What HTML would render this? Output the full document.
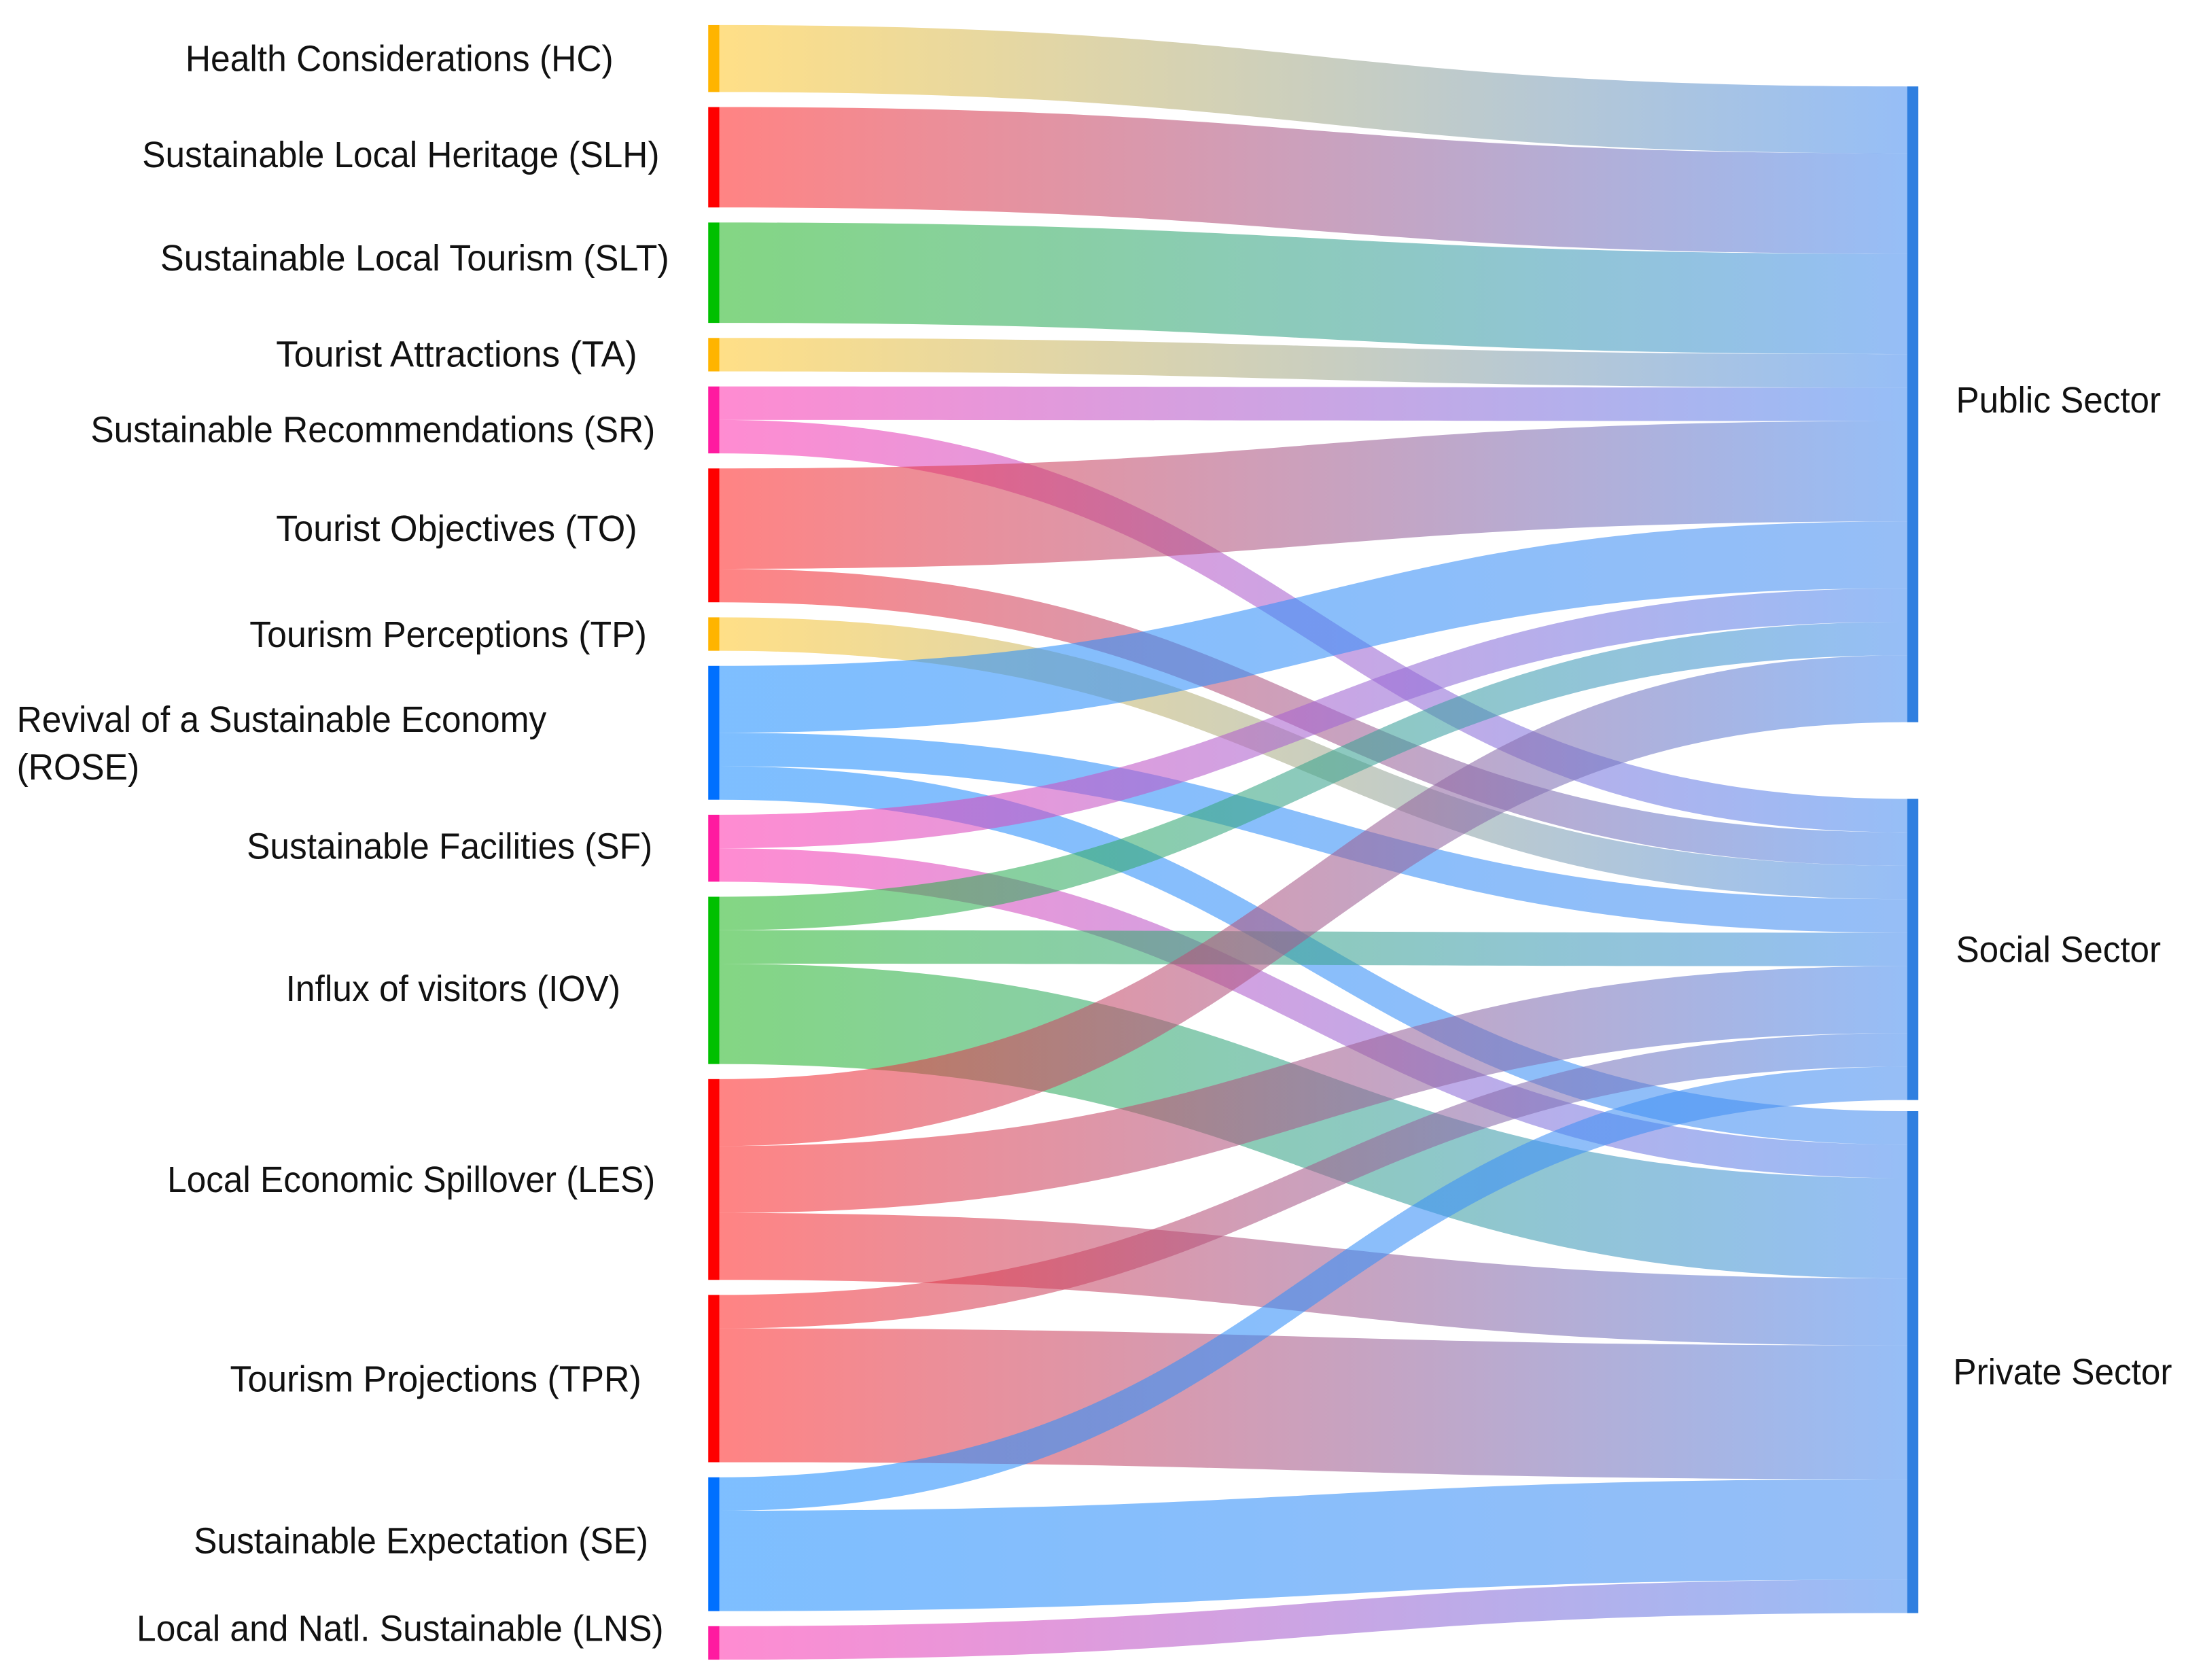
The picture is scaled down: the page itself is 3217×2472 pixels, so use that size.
<!DOCTYPE html>
<html><head><meta charset="utf-8"><style>
html,body{margin:0;padding:0;background:#fff;}
svg{display:block;}
text{font-family:"Liberation Sans",Arial,sans-serif;fill:#111;}
</style></head><body>
<svg id="chart" width="3217" height="2472" viewBox="0 0 1568 1205" preserveAspectRatio="none" xmlns="http://www.w3.org/2000/svg">
<defs id="defs"></defs>
<g id="links"></g>
<g id="nodes"></g>
<g id="labels"></g>
</svg>
<script>
const sourceNames = ["HC","SLH","SLT","TA","SR","TO","TP","ROSE","SF","IOV","LES","TPR","SE","LNS"];
const targetNames = ["Public Sector","Social Sector","Private Sector"];
const linkSources = ["HC","SLH","SLT","TA","SR","SR","TO","TO","TP","ROSE","ROSE","ROSE","SF","SF","IOV","IOV","IOV","LES","LES","LES","TPR","TPR","SE","SE","LNS"];
const linkTargets = ["Public Sector","Public Sector","Public Sector","Public Sector","Public Sector","Social Sector","Public Sector","Social Sector","Social Sector","Public Sector","Social Sector","Private Sector","Public Sector","Private Sector","Public Sector","Social Sector","Private Sector","Public Sector","Social Sector","Private Sector","Social Sector","Private Sector","Social Sector","Private Sector","Private Sector"];
const linkValues = [2,3,3,1,1,1,3,1,1,2,1,1,1,1,1,1,3,2,2,2,1,4,1,3,1];
const sourceColors = {HC:"#ffb400",SLH:"#ff0000",SLT:"#00c000",TA:"#ffb400",SR:"#ff1aa0",TO:"#ff0000",TP:"#ffb400",ROSE:"#0070ff",SF:"#ff1aa0",IOV:"#00c000",LES:"#ff0000",TPR:"#ff0000",SE:"#0070ff",LNS:"#ff1aa0"};
const linkColors = {HC:"#ffc830",SLH:"#ff2a2a",SLT:"#2ab82a",TA:"#ffc830",SR:"#ff38b0",TO:"#ff2a2a",TP:"#ffc830",ROSE:"#2090ff",SF:"#ff38b0",IOV:"#2ab82a",LES:"#ff2a2a",TPR:"#ff2a2a",SE:"#2090ff",LNS:"#ff38b0"};
const sourceLabels = [
 ["Health Considerations (HC)",42,133,440],["Sustainable Local Heritage (SLH)",111,102,473],["Sustainable Local Tourism (SLT)",185,115,480],
 ["Tourist Attractions (TA)",254,198,457],["Sustainable Recommendations (SR)",308,65,470],["Tourist Objectives (TO)",379,198,457],
 ["Tourism Perceptions (TP)",455,179,464],["Revival of a Sustainable Economy",516,12,392],["(ROSE)",550,12,100],
 ["Sustainable Facilities (SF)",607,177,468],["Influx of visitors (IOV)",709,205,445],["Local Economic Spillover (LES)",846,120,470],
 ["Tourism Projections (TPR)",989,165,460],["Sustainable Expectation (SE)",1105,139,465],["Local and Natl. Sustainable (LNS)",1168,98,476]];
const targetLabels = [["Public Sector",287,1403,1550],["Social Sector",681,1403,1550],["Private Sector",984,1401,1558]];

const NS="http://www.w3.org/2000/svg";
const unit=24, leftTop=18, leftGap=10.8, xL=508, nodeW=8, xR=1368;
const rightTops={"Public Sector":62,"Social Sector":573,"Private Sector":797};
function mk(t,a,p){const e=document.createElementNS(NS,t);for(const k in a)e.setAttribute(k,a[k]);p.appendChild(e);return e;}
const srcTotal={},tgtTotal={};
linkValues.forEach((v,i)=>{srcTotal[linkSources[i]]=(srcTotal[linkSources[i]]||0)+v;tgtTotal[linkTargets[i]]=(tgtTotal[linkTargets[i]]||0)+v;});
const srcY={};let y=leftTop;
sourceNames.forEach(s=>{srcY[s]=y;y+=srcTotal[s]*unit+leftGap;});
const srcOff={},tgtOff={};
sourceNames.forEach(s=>srcOff[s]=srcY[s]);
targetNames.forEach(t=>tgtOff[t]=rightTops[t]);
const order=linkValues.map((v,i)=>i);
const defs=document.getElementById('defs'),gL=document.getElementById('links'),gN=document.getElementById('nodes'),gT=document.getElementById('labels');
const y0s=[],y1s=[];
// left positions: order by target within source
sourceNames.forEach(s=>{targetNames.forEach(t=>{order.forEach(i=>{if(linkSources[i]===s&&linkTargets[i]===t){y0s[i]=srcOff[s];srcOff[s]+=linkValues[i]*unit;}});});});
targetNames.forEach(t=>{sourceNames.forEach(s=>{order.forEach(i=>{if(linkSources[i]===s&&linkTargets[i]===t){y1s[i]=tgtOff[t];tgtOff[t]+=linkValues[i]*unit;}});});});
order.forEach(i=>{
 const s=linkSources[i],h=linkValues[i]*unit,a=y0s[i],b=y1s[i];
 const gid='g'+i;
 const lg=mk('linearGradient',{id:gid,x1:xL+nodeW,x2:xR,y1:0,y2:0,gradientUnits:'userSpaceOnUse'},defs);
 mk('stop',{offset:'0',"stop-color":linkColors[s]},lg);
 mk('stop',{offset:'1',"stop-color":"#4a8ff0"},lg);
 const x0=xL+nodeW,x1=xR,xm=(x0+x1)/2;
 const d=`M${x0},${a} C${xm},${a} ${xm},${b} ${x1},${b} L${x1},${b+h} C${xm},${b+h} ${xm},${a+h} ${x0},${a+h} Z`;
 const p=mk('path',{d:d,fill:`url(#${gid})`,'fill-opacity':0.58},gL);
 
 
});
sourceNames.forEach(s=>{
 const r=mk('rect',{x:xL,y:srcY[s],width:nodeW,height:srcTotal[s]*unit,fill:sourceColors[s]},gN);
 
 
});
targetNames.forEach(t=>{
 const r=mk('rect',{x:xR,y:rightTops[t],width:nodeW,height:tgtTotal[t]*unit,fill:"#2f7fe0"},gN);
 
 
});
sourceLabels.concat(targetLabels).forEach(l=>{
 const e=mk('text',{x:l[2],y:l[1]+9,'font-size':26,textLength:l[3]-l[2],lengthAdjust:'spacingAndGlyphs'},gT);
 e.textContent=l[0];
 
 
});
</script>
</body></html>
